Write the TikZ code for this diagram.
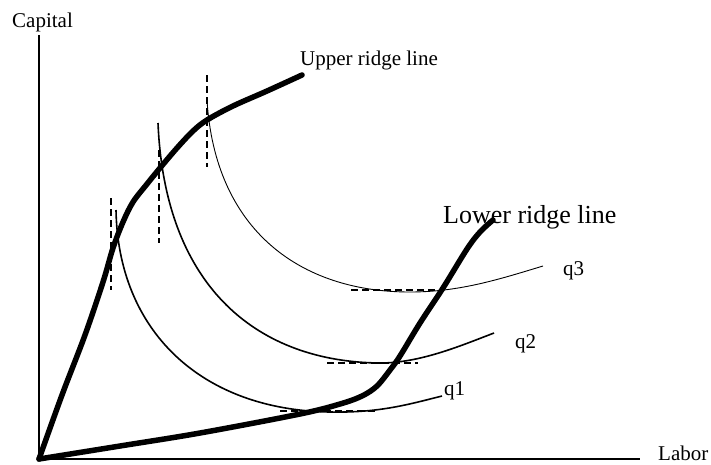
\documentclass[tikz,border=0pt]{standalone}
\usepackage{fontspec}
\setmainfont{Liberation Serif}
\usetikzlibrary{positioning}
\tikzset{
    axis/.style={line width=1.6pt},
    ridge/.style={line width=5.5pt, line cap=round, line join=round},
    isoquant/.style={line width=1.6pt},
    thinquant/.style={line width=0.9pt},
    tangent/.style={line width=2.2pt, dash pattern=on 7pt off 4pt},
    lbl/.style={inner sep=0pt, anchor=base west, font=\fontsize{21}{24}\selectfont},
    biglbl/.style={lbl, font=\fontsize{26}{30}\selectfont}
}

\begin{document}
\begin{tikzpicture}[x=1pt, y=-1pt]
\useasboundingbox (0,0) rectangle (711,464);

% Axes
\coordinate (origin) at (39,459);
\coordinate (ytop) at (39,35);
\coordinate (xend) at (640,459);
\draw[axis] (ytop) -- (origin) -- (xend);
\node (capital) [lbl] at (12,27) {Capital};
\node (labor) [lbl] at (658,460) {Labor};

% Isoquants
\draw[isoquant] (116,210) .. controls (118,330) and (200,410) .. (330,412)
    .. controls (380,413) and (410,404) .. (442,396);
\draw[isoquant] (158,123) .. controls (165,290) and (260,362) .. (380,363)
    .. controls (420,363) and (460,346) .. (494,333);
\draw[thinquant] (207,100) .. controls (215,230) and (300,292) .. (410,292)
    .. controls (460,292) and (500,279) .. (543,266);
\node (q1) [lbl] at (444,395) {q1};
\node (q2) [lbl] at (515,348) {q2};
\node (q3) [lbl] at (563,275) {q3};

% Tangents
\draw[tangent] (111,198) -- (111,290);
\draw[tangent] (159,150) -- (159,243);
\draw[tangent] (207,75) -- (207,167);
\draw[tangent] (280,411) -- (375,411);
\draw[tangent] (327,363) -- (418,363);
\draw[tangent] (351,290) -- (443,290);

% Ridge lines
\draw[ridge] plot[smooth, tension=0.55] coordinates {(origin) (62,395) (85,335) (103,282) (113,248) (123,222) (133,202) (147,184) (160,168) (177,148) (193,131) (207,120) (233,106) (267,91) (302,75)};
\draw[ridge] plot[smooth, tension=0.55] coordinates {(origin) (120,446) (200,433) (300,414) (340,404) (362,396) (377,386) (390,370) (400,356) (420,323) (443,288) (467,249) (480,232) (493,220)};
\node (upper) [lbl] at (300,65) {Upper ridge line};
\node (lower) [biglbl] at (443,223) {Lower ridge line};

\end{tikzpicture}
\end{document}
